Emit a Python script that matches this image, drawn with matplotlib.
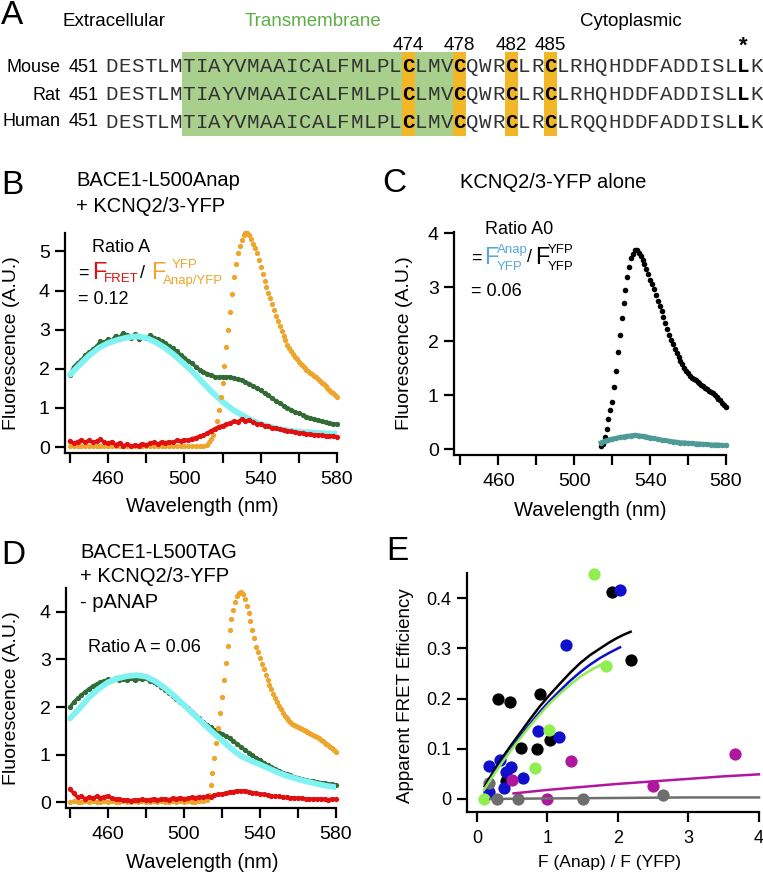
import matplotlib
matplotlib.use('Agg')
import matplotlib.pyplot as plt
from matplotlib.patches import Rectangle
import numpy as np

W, H = 763, 873
plt.rcParams['font.family'] = ['Liberation Sans', 'DejaVu Sans']

# ---------------- Panel A data ----------------
species = ['Mouse', 'Rat', 'Human']
start_pos = '451'
sequences = [
    "DESTLMTIAYVMAAICALFMLPLCLMVCQWRCLRCLRHQHDDFADDISLLK",
    "DESTLMTIAYVMAAICALFMLPLCLMVCQWRCLRCLRHQHDDFADDISLLK",
    "DESTLMTIAYVMAAICALFMLPLCLMVCQWRCLRCLRQQHDDFADDISLLK",
]
tm_range = (6, 27)              # transmembrane residues (index)
cys_idx = [23, 27, 31, 34]
cys_labels = ['474', '478', '482', '485']
star_idx = 49

# ---------------- Spectra data ----------------
wl_ticks = [440, 460, 480, 500, 520, 540, 560, 580]
wl_ticklabels = ['', '460', '', '500', '', '540', '', '580']

wl2 = np.arange(440, 581, 2)          # 2 nm sampled series
wl5 = np.arange(440, 581, 5)          # fit lines
wl_base = np.arange(440, 511, 2)      # YFP baseline
wl1 = np.arange(512, 581, 1)          # YFP emission
wlC1 = np.arange(514, 581, 1)
wlC2 = np.arange(514, 581, 2)

B_green = [1.85, 2.05, 2.15, 2.22, 2.35, 2.42, 2.50, 2.58, 2.70, 2.68,
           2.75, 2.72, 2.85, 2.80, 2.92, 2.86, 2.80, 2.88, 2.76, 2.82,
           2.78, 2.86, 2.80, 2.75, 2.70, 2.66, 2.58, 2.52, 2.45, 2.36,
           2.28, 2.20, 2.14, 2.05, 1.98, 1.92, 1.88, 1.84, 1.80, 1.78,
           1.80, 1.78, 1.80, 1.76, 1.74, 1.72, 1.66, 1.62, 1.56, 1.50,
           1.45, 1.38, 1.32, 1.25, 1.18, 1.12, 1.06, 1.00, 0.95, 0.90,
           0.86, 0.82, 0.78, 0.75, 0.72, 0.69, 0.66, 0.64, 0.62, 0.60,
           0.58]
B_red = [0.16, 0.10, 0.14, 0.18, 0.13, 0.17, 0.12, 0.15, 0.20, 0.13,
         0.10, 0.14, 0.06, 0.11, 0.04, 0.07, 0.03, 0.05, 0.04, 0.09,
         0.05, 0.10, 0.12, 0.08, 0.13, 0.11, 0.14, 0.12, 0.17, 0.15,
         0.19, 0.17, 0.22, 0.24, 0.28, 0.30, 0.36, 0.42, 0.47, 0.52,
         0.55, 0.58, 0.62, 0.66, 0.64, 0.72, 0.66, 0.70, 0.63, 0.60,
         0.58, 0.55, 0.53, 0.50, 0.48, 0.46, 0.44, 0.42, 0.40, 0.39,
         0.37, 0.36, 0.34, 0.33, 0.32, 0.31, 0.30, 0.29, 0.29, 0.28,
         0.27]
B_cyan = [1.85, 2.10, 2.34, 2.53, 2.66, 2.74, 2.80, 2.83, 2.79, 2.68,
          2.53, 2.34, 2.12, 1.89, 1.63, 1.38, 1.16, 0.97, 0.82, 0.69,
          0.59, 0.52, 0.46, 0.42, 0.39, 0.38, 0.36, 0.35, 0.34]
B_orange_base = [0.03, 0.02, 0.03, 0.04, 0.02, 0.03, 0.02, 0.03, 0.04, 0.03,
                 0.02, 0.03, 0.02, 0.03, 0.02, 0.03, 0.04, 0.03, 0.02, 0.03,
                 0.03, 0.02, 0.03, 0.02, 0.03, 0.04, 0.03, 0.02, 0.03, 0.02,
                 0.03, 0.03, 0.02, 0.03, 0.03, 0.04]
B_orange = [0.05, 0.12, 0.22, 0.32, 0.46, 0.68, 0.95, 1.28, 1.65, 2.08,
            2.55, 3.00, 3.45, 3.92, 4.35, 4.68, 4.95, 5.15, 5.30, 5.42,
            5.47, 5.46, 5.42, 5.32, 5.20, 5.08, 4.95, 4.78, 4.60, 4.42,
            4.25, 4.10, 3.95, 3.80, 3.65, 3.50, 3.35, 3.22, 3.10, 2.97,
            2.85, 2.73, 2.62, 2.53, 2.45, 2.37, 2.30, 2.24, 2.18, 2.13,
            2.08, 2.03, 1.98, 1.94, 1.90, 1.86, 1.82, 1.78, 1.73, 1.69,
            1.64, 1.60, 1.55, 1.51, 1.47, 1.42, 1.38, 1.33, 1.29]

C_black = [0.05, 0.10, 0.22, 0.38, 0.55, 0.72, 0.88, 1.15, 1.45, 1.80,
           2.12, 2.42, 2.70, 2.95, 3.18, 3.38, 3.53, 3.62, 3.68, 3.69,
           3.64, 3.58, 3.50, 3.42, 3.33, 3.24, 3.14, 3.05, 2.96, 2.86,
           2.75, 2.65, 2.55, 2.44, 2.33, 2.22, 2.12, 2.02, 1.94, 1.86,
           1.78, 1.71, 1.64, 1.57, 1.51, 1.45, 1.40, 1.36, 1.32, 1.30,
           1.27, 1.25, 1.22, 1.19, 1.16, 1.14, 1.11, 1.08, 1.06, 1.03,
           1.00, 0.97, 0.93, 0.90, 0.86, 0.82, 0.78]
C_teal = [0.12, 0.15, 0.17, 0.19, 0.20, 0.22, 0.23, 0.24, 0.25, 0.26,
          0.25, 0.24, 0.23, 0.21, 0.20, 0.18, 0.17, 0.16, 0.15, 0.14,
          0.13, 0.12, 0.12, 0.11, 0.11, 0.10, 0.10, 0.09, 0.09, 0.08,
          0.08, 0.08, 0.07, 0.07]

D_green = [2.00, 2.10, 2.18, 2.25, 2.32, 2.38, 2.44, 2.48, 2.52, 2.55,
           2.58, 2.57, 2.60, 2.56, 2.58, 2.56, 2.60, 2.57, 2.62, 2.58,
           2.60, 2.55, 2.52, 2.48, 2.42, 2.36, 2.30, 2.24, 2.17, 2.10,
           2.04, 1.97, 1.90, 1.83, 1.76, 1.69, 1.63, 1.57, 1.52, 1.48,
           1.44, 1.39, 1.34, 1.28, 1.22, 1.16, 1.10, 1.04, 0.98, 0.93,
           0.88, 0.83, 0.78, 0.74, 0.70, 0.66, 0.62, 0.59, 0.56, 0.53,
           0.51, 0.49, 0.47, 0.45, 0.44, 0.42, 0.41, 0.40, 0.38, 0.37,
           0.35]
D_red = [0.28, 0.18, 0.10, 0.12, 0.07, 0.10, 0.08, 0.12, 0.09, 0.11,
         0.13, 0.08, 0.06, 0.07, 0.04, 0.05, 0.03, 0.05, 0.04, 0.06,
         0.04, 0.05, 0.07, 0.05, 0.06, 0.07, 0.05, 0.08, 0.07, 0.09,
         0.07, 0.08, 0.10, 0.09, 0.11, 0.10, 0.12, 0.11, 0.14, 0.16,
         0.17, 0.19, 0.21, 0.22, 0.24, 0.23, 0.24, 0.22, 0.20, 0.19,
         0.17, 0.16, 0.15, 0.13, 0.12, 0.12, 0.10, 0.10, 0.09, 0.09,
         0.08, 0.08, 0.07, 0.07, 0.06, 0.07, 0.06, 0.06, 0.05, 0.06,
         0.06]
D_cyan = [1.76, 1.97, 2.20, 2.38, 2.52, 2.60, 2.65, 2.67, 2.64, 2.54,
          2.40, 2.23, 2.04, 1.85, 1.66, 1.47, 1.30, 1.12, 0.97, 0.87,
          0.79, 0.70, 0.61, 0.54, 0.48, 0.43, 0.38, 0.34, 0.31]
D_orange_base = [0.01, 0.02, 0.01, 0.01, 0.02, 0.01, 0.02, 0.01, 0.01, 0.02,
                 0.01, 0.02, 0.01, 0.01, 0.02, 0.01, 0.01, 0.02, 0.01, 0.02,
                 0.01, 0.01, 0.02, 0.01, 0.02, 0.01, 0.01, 0.02, 0.01, 0.02,
                 0.01, 0.02, 0.01, 0.01, 0.02, 0.02]
D_orange = [0.04, 0.15, 0.35, 0.62, 0.92, 1.25, 1.55, 1.88, 2.22, 2.57,
            2.93, 3.28, 3.62, 3.85, 4.05, 4.22, 4.33, 4.40, 4.43, 4.38,
            4.28, 4.12, 3.97, 3.80, 3.62, 3.45, 3.27, 3.15, 3.03, 2.91,
            2.80, 2.68, 2.57, 2.47, 2.37, 2.28, 2.19, 2.10, 2.02, 1.95,
            1.88, 1.82, 1.77, 1.72, 1.68, 1.65, 1.62, 1.60, 1.57, 1.55,
            1.53, 1.51, 1.49, 1.47, 1.45, 1.43, 1.41, 1.39, 1.37, 1.34,
            1.31, 1.28, 1.25, 1.22, 1.19, 1.16, 1.13, 1.10, 1.06]

# ---------------- Panel E data ----------------
E_black_x = [0.30, 0.47, 0.89, 0.63, 0.85, 1.03, 1.91, 2.18, 0.41]
E_black_y = [0.199, 0.194, 0.209, 0.101, 0.099, 0.118, 0.413, 0.276, 0.035]
E_blue_x = [0.175, 0.33, 0.48, 0.42, 0.66, 0.38, 0.175, 0.87, 1.17, 1.27, 2.03]
E_blue_y = [0.066, 0.078, 0.063, 0.054, 0.041, 0.021, 0.013, 0.136, 0.123, 0.307, 0.416]
E_green_x = [0.10, 0.83, 1.02, 1.66, 1.83]
E_green_y = [0.0, 0.061, 0.137, 0.448, 0.264]
E_mag_x = [0.50, 0.99, 1.34, 2.50, 3.66]
E_mag_y = [0.038, 0.0, 0.076, 0.026, 0.090]
E_gray_x = [0.17, 0.29, 0.59, 1.50, 2.64]
E_gray_y = [0.031, 0.0, 0.0, 0.0, 0.008]

fit_black_x = [0.11, 0.24, 0.37, 0.49, 0.61, 0.75, 0.89, 1.03, 1.18, 1.32, 1.46, 1.60, 1.75, 1.87, 1.98, 2.08, 2.18]
fit_black_y = [0.025, 0.056, 0.084, 0.108, 0.131, 0.158, 0.184, 0.207, 0.230, 0.251, 0.270, 0.286, 0.300, 0.311, 0.320, 0.327, 0.333]
fit_blue_x = [0.12, 0.24, 0.37, 0.49, 0.61, 0.75, 0.89, 1.03, 1.18, 1.32, 1.46, 1.60, 1.75, 1.89, 2.03]
fit_blue_y = [0.022, 0.051, 0.078, 0.101, 0.124, 0.149, 0.173, 0.195, 0.216, 0.235, 0.252, 0.267, 0.281, 0.292, 0.302]
fit_green_x = [0.10, 0.24, 0.37, 0.49, 0.61, 0.75, 0.89, 1.03, 1.18, 1.32, 1.46, 1.63, 1.80]
fit_green_y = [0.018, 0.048, 0.075, 0.098, 0.120, 0.145, 0.168, 0.190, 0.210, 0.227, 0.243, 0.258, 0.270]
fit_mag_x = [0.52, 1.0, 1.5, 2.0, 2.5, 3.0, 3.5, 4.0]
fit_mag_y = [0.011, 0.018, 0.024, 0.030, 0.035, 0.040, 0.045, 0.049]
fit_gray_x = [0.19, 1.0, 2.0, 3.0, 4.0]
fit_gray_y = [0.0, 0.001, 0.002, 0.003, 0.003]

# ---------------- colours ----------------
c_dgreen = '#336B36'
c_red = '#E01010'
c_orange = '#EEA52C'
c_cyan = '#80F2F2'
c_teal = '#4E9A97'
c_ltblue = '#58A8D8'
c_tm = '#A9CF8C'
c_cys = '#F2B727'

fig = plt.figure(figsize=(W / 100, H / 100), dpi=100)
ax0 = fig.add_axes([0, 0, 1, 1])
ax0.set_xlim(0, W)
ax0.set_ylim(H, 0)
ax0.axis('off')


def T(x, y, s, size, color='black', ha='left', va='center', **kw):
    ax0.text(x, y, s, fontsize=size, color=color, ha=ha, va=va, **kw)


# ---------------- Panel A ----------------
T(1, 16, 'A', 24)
T(63, 21, 'Extracellular', 13.5)
T(245, 21, 'Transmembrane', 13.5, color='#5DAE45')
T(580, 21, 'Cytoplasmic', 13.5)

x0, cw = 105.0, 12.9
top, bot = 52, 136
ax0.add_patch(Rectangle((x0 + tm_range[0] * cw, top), (tm_range[1] - tm_range[0]) * cw,
                        bot - top, color=c_tm, lw=0, zorder=0))
for i in cys_idx:
    ax0.add_patch(Rectangle((x0 + i * cw, top), cw, bot - top, color=c_cys, lw=0, zorder=0))
for i, lab in zip(cys_idx, cys_labels):
    T(x0 + (i + 0.5) * cw, 45, lab, 13.5, ha='center')
T(x0 + (star_idx + 0.5) * cw, 46, '*', 16, ha='center', weight='bold')

row_y = [67, 95, 122]
for sp, seq, yy in zip(species, sequences, row_y):
    T(60, yy, sp, 13, ha='right')
    T(69, yy, start_pos, 13)
    for i, ch in enumerate(seq):
        bold = (i in cys_idx) or (i == star_idx)
        ax0.text(x0 + (i + 0.5) * cw, yy, ch, fontsize=15, ha='center', va='center',
                 family='Liberation Mono', color='black' if bold else '#333333',
                 weight='bold' if bold else 'normal', zorder=2)


# ---------------- axes helpers ----------------
def make_ax(l, t, r, b, xlim, ylim):
    ax = fig.add_axes([l / W, 1 - b / H, (r - l) / W, (b - t) / H])
    ax.patch.set_alpha(0)
    ax.set_xlim(*xlim)
    ax.set_ylim(*ylim)
    for s in ['top', 'right']:
        ax.spines[s].set_visible(False)
    for s in ['left', 'bottom']:
        ax.spines[s].set_linewidth(1.6)
    ax.tick_params(length=7, width=1.6, labelsize=14, direction='out')
    ax.tick_params(axis='x', pad=6)
    ax.tick_params(axis='y', pad=4)
    ax._box = (l, t, r, b)
    return ax


def lab_pos(ax, px, py):
    l, t, r, b = ax._box
    return (px - l) / (r - l), (b - py) / (b - t)


def spectra_axis(ax, yticks, xlab_xy, ylab_xy):
    ax.set_xticks(wl_ticks)
    ax.set_xticklabels(wl_ticklabels)
    ax.set_yticks(yticks)
    ax.set_xlabel('Wavelength (nm)', fontsize=14.5, va='center', ha='center')
    ax.set_ylabel('Fluorescence (A.U.)', fontsize=14, va='center', ha='center')
    ax.xaxis.set_label_coords(*lab_pos(ax, *xlab_xy))
    ax.yaxis.set_label_coords(*lab_pos(ax, *ylab_xy))


def dots_line(ax, x, y, c, ms=3.8, lw=2.4, z=2):
    ax.plot(x, y, '-o', color=c, ms=ms, lw=lw, mec='none', clip_on=False, zorder=z)


def dots(ax, x, y, c, ms=3.8, z=2):
    ax.plot(x, y, 'o', color=c, ms=ms, mec='none', clip_on=False, zorder=z)


# ---------------- Panel B ----------------
axB = make_ax(65, 233, 337, 453, (437.4, 580), (-0.15, 5.47))
spectra_axis(axB, [0, 1, 2, 3, 4, 5], (202, 507), (12, 343))
dots_line(axB, wl2, B_green, c_dgreen, z=2)
axB.plot(wl5, B_cyan, '-', color=c_cyan, lw=4.2, solid_capstyle='round', zorder=3)
dots(axB, wl_base, B_orange_base, c_orange, z=4)
dots(axB, wl1, B_orange, c_orange, z=4)
dots_line(axB, wl2, B_red, c_red, z=5)

T(1, 186, 'B', 24)
T(76, 181, 'BACE1-L500Anap', 14.5)
T(76, 206, '+ KCNQ2/3-YFP', 14.5)
T(92, 248, 'Ratio A', 13)
T(78, 273, '=', 13)
T(92, 273, 'F', 17, color=c_red)
T(104, 279, 'FRET', 9.5, color=c_red)
T(140, 273, '/', 13)
T(151, 273, 'F', 17, color=c_orange)
T(172, 265, 'YFP', 9.5, color=c_orange)
T(163, 281, 'Anap/YFP', 9.5, color=c_orange)
T(78, 300, '= 0.12', 13)

# ---------------- Panel C ----------------
axC = make_ax(454, 232, 726, 455, (436.6, 580), (-0.11, 4.02))
spectra_axis(axC, [0, 1, 2, 3, 4], (590, 510), (405, 343))
dots(axC, wlC1, C_black, 'black', ms=4.0, z=2)
dots_line(axC, wlC2, C_teal, c_teal, ms=4.0, lw=3.2, z=3)

T(382, 184, 'C', 24)
T(460, 182, 'KCNQ2/3-YFP alone', 14.5)
T(485, 230, 'Ratio A0', 13)
T(471, 258, '=', 13)
T(484, 258, 'F', 17, color=c_ltblue)
T(497, 250, 'Anap', 9.5, color=c_ltblue)
T(497, 267, 'YFP', 9.5, color=c_ltblue)
T(527, 258, '/', 13)
T(535, 258, 'F', 17)
T(548, 250, 'YFP', 9.5)
T(548, 267, 'YFP', 9.5)
T(471, 292, '= 0.06', 13)

# ---------------- Panel D ----------------
axD = make_ax(66, 588, 336, 808, (437.9, 580), (-0.126, 4.505))
spectra_axis(axD, [0, 1, 2, 3, 4], (202, 862), (12, 698))
dots_line(axD, wl2, D_green, c_dgreen, z=2)
axD.plot(wl5, D_cyan, '-', color=c_cyan, lw=4.2, solid_capstyle='round', zorder=3)
dots(axD, wl_base, D_orange_base, c_orange, z=4)
dots(axD, wl1, D_orange, c_orange, z=4)
dots_line(axD, wl2, D_red, c_red, z=5)

T(1, 556, 'D', 24)
T(80, 553, 'BACE1-L500TAG', 14.5)
T(80, 577, '+ KCNQ2/3-YFP', 14.5)
T(80, 603, '- pANAP', 14.5)
T(88, 647, 'Ratio A = 0.06', 13)

# ---------------- Panel E ----------------
axE = make_ax(467, 573, 759, 812, (-0.14, 4.0), (-0.026, 0.45))
axE.set_xticks([0, 1, 2, 3, 4])
axE.set_xticklabels(['0', '1', '2', '3', '4'])
axE.set_yticks([0, 0.1, 0.2, 0.3, 0.4])
axE.set_yticklabels(['0', '0.1', '0.2', '0.3', '0.4'])
axE.tick_params(labelsize=13)
axE.set_xlabel('F (Anap) / F (YFP)', fontsize=12.5, va='center', ha='center')
axE.set_ylabel('Apparent FRET Efficiency', fontsize=13.5, va='center', ha='center')
axE.xaxis.set_label_coords(*lab_pos(axE, 610, 863))
axE.yaxis.set_label_coords(*lab_pos(axE, 405, 696))

s = 78
axE.scatter(E_black_x, E_black_y, s=s, color='black', lw=0, zorder=2, clip_on=False)
axE.scatter(E_blue_x, E_blue_y, s=s, color='#1010CC', lw=0, zorder=3, clip_on=False)
axE.scatter(E_green_x, E_green_y, s=s, color='#90EE50', lw=0, zorder=4, clip_on=False)
axE.scatter(E_mag_x, E_mag_y, s=s, color='#AE179E', lw=0, zorder=5, clip_on=False)
axE.scatter(E_gray_x, E_gray_y, s=s, color='#6E6E6E', lw=0, zorder=6, clip_on=False)
axE.plot(fit_black_x, fit_black_y, color='black', lw=1.8, zorder=7)
axE.plot(fit_blue_x, fit_blue_y, color='#1010CC', lw=1.8, zorder=8)
axE.plot(fit_green_x, fit_green_y, color='#90EE50', lw=1.8, zorder=9)
axE.plot(fit_mag_x, fit_mag_y, color='#AE179E', lw=1.8, zorder=7, clip_on=False)
axE.plot(fit_gray_x, fit_gray_y, color='#6E6E6E', lw=1.8, zorder=7, clip_on=False)

T(386, 551, 'E', 24)

fig.savefig('out.png', dpi=100)
